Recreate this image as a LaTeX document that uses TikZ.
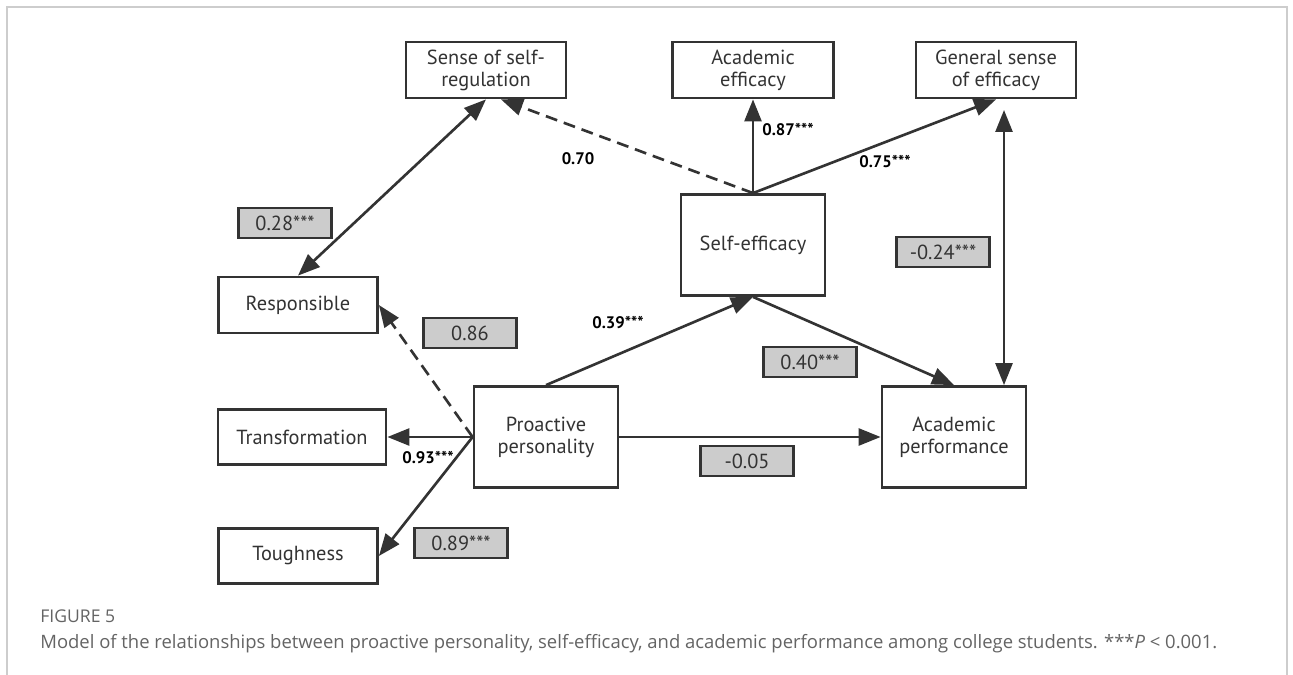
\documentclass[tikz,border=0pt]{standalone}
\usepackage{fontspec}
\setmainfont{PT Sans}
\newfontfamily\capfont{Open Sans}
\usetikzlibrary{arrows.meta}
\definecolor{ink}{RGB}{51,51,51}
\definecolor{boxgray}{RGB}{204,204,204}
\definecolor{framegray}{RGB}{205,205,205}
\definecolor{capgray}{RGB}{100,100,100}
\begin{document}
\begin{tikzpicture}
        [x=0.02cm, y=-0.02cm,
         var/.style={draw=ink, line width=1.6pt, text=ink, align=center, inner sep=0pt,
                     font=\fontsize{11.6}{12.5}\selectfont},
         coef/.style={draw=ink, line width=1.6pt, fill=boxgray, text=ink, inner sep=0pt,
                      minimum width=1.86cm, minimum height=0.6cm, font=\fontsize{11.6}{12.5}\selectfont},
         est/.style={inner sep=0pt, text=black, font=\bfseries\fontsize{9.5}{11}\selectfont},
         link/.style={draw=ink, line width=1.5pt, -{Triangle[length=0.44cm, width=0.34cm]}},
         both/.style={link, {Triangle[length=0.44cm, width=0.34cm]}-{Triangle[length=0.44cm, width=0.34cm]}}]
        \useasboundingbox (0,0) rectangle (1293,675);
        \fill[white] (0,0) rectangle (1293,675);
        \draw[framegray, line width=1pt] (7,675) -- (7,7) -- (1287,7) -- (1287,675);
        % latent variables
        \node [var, minimum width=2.88cm, minimum height=2.02cm] (pro) at (546,437) {Proactive\\personality};
        \node [var, minimum width=2.88cm, minimum height=2.02cm] (se) at (753,245) {Self-efficacy};
        \node [var, minimum width=2.88cm, minimum height=2.02cm] (perf) at (954,437) {Academic\\performance};
        % indicators
        \node [var, minimum width=3.2cm, minimum height=1.12cm] (sense) at (486,70) {Sense of self-\\regulation};
        \node [var, minimum width=3.22cm, minimum height=1.12cm] (acad) at (753,70) {Academic\\efficacy};
        \node [var, minimum width=3.2cm, minimum height=1.12cm] (gen) at (996,70) {General sense\\of efficacy};
        \node [var, minimum width=3.18cm, minimum height=1.12cm] (resp) at (298,305) {Responsible};
        \node [var, minimum width=3.36cm, minimum height=1.1cm] (trans) at (302,437) {Transformation};
        \node [var, minimum width=3.18cm, minimum height=1.1cm] (tough) at (298,556) {Toughness};
        \coordinate (gtop) at (1004,110);
        % paths
        \draw [both] (resp.north) -- (sense.south);
        \draw [link, dashed, dash pattern=on 0.24cm off 0.14cm] (se.north) -- (sense.-63);
        \draw [link] (se.north) -- (acad.south);
        \draw [link] (se.north) -- (gen.south);
        \draw [both] (gtop) -- (gtop |- perf.north);
        \draw [link] (pro.north) -- (se.south);
        \draw [link] (se.south) -- (perf.north);
        \draw [link] (pro.east) -- (perf.west);
        \draw [link] (pro.west) -- (trans.east);
        \draw [link] (pro.west) -- (tough.east);
        \draw [link, dashed, dash pattern=on 0.24cm off 0.14cm] (pro.west) -- (resp.east);
        % estimates
        \node [coef] (c28) at (285,223) {0.28***};
        \node [coef] (c86) at (470,333) {0.86};
        \node [coef] (c24) at (943,252) {-0.24***};
        \node [coef] (c40) at (810,362) {0.40***};
        \node [coef] (c05) at (747,461) {-0.05};
        \node [coef] (c89) at (461,543) {0.89***};
        \node [est] (e70) at (578,159) {0.70};
        \node [est] (e87) at (788,130) {0.87***};
        \node [est] (e75) at (885,162) {0.75***};
        \node [est] (e39) at (618,323) {0.39***};
        \node [est] (e93) at (428,458) {0.93***};
        % caption
        \node [anchor=base west, inner sep=0pt, text=capgray, font=\capfont\fontsize{10}{12}\selectfont] (fig) at (40,622) {FIGURE 5};
        \node [anchor=base west, inner sep=0pt, text=capgray, font=\capfont\fontsize{10.5}{12}\selectfont] (cap) at (40,648)
              {Model of the relationships between proactive personality, self-efficacy, and academic performance among college students. ***\textit{P} < 0.001.};
    \end{tikzpicture}
\end{document}
